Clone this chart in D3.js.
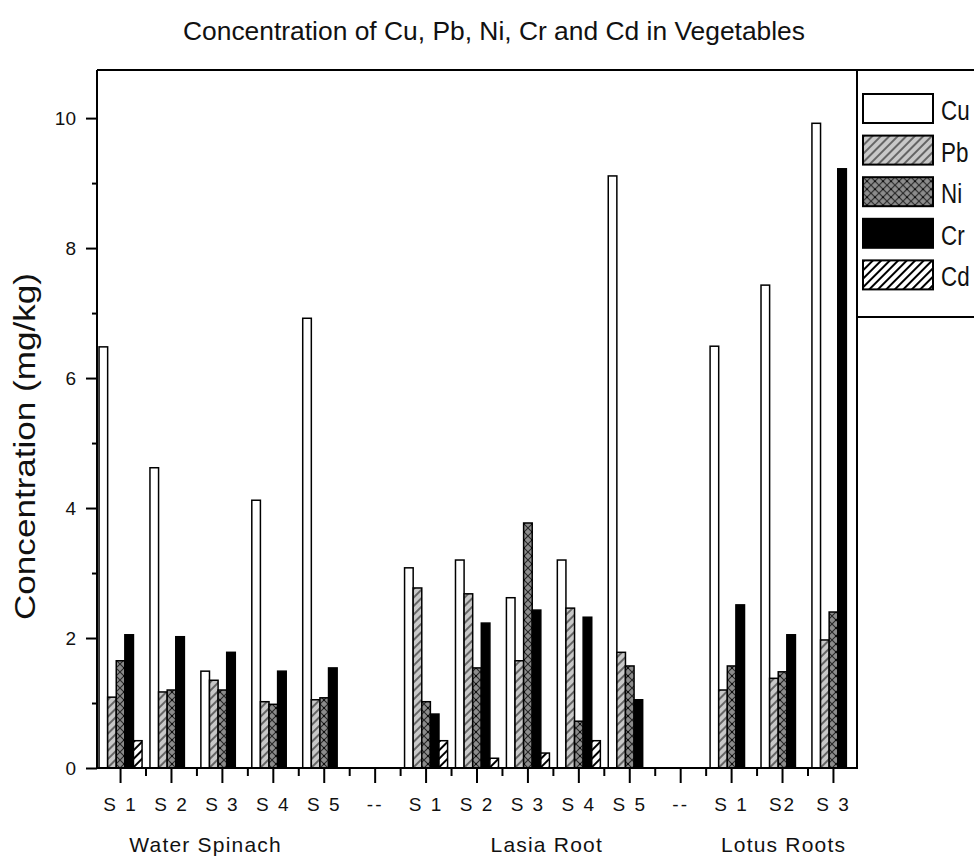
<!DOCTYPE html>
<html>
<head>
<meta charset="utf-8">
<script src="https://cdn.jsdelivr.net/npm/d3@7"></script>
<style>
  body { margin: 0; background: #fff; }
  text { font-family: "Liberation Sans", Arial, sans-serif; fill: #111; }
</style>
</head>
<body>
<div id="chart"></div>
<script>
// x categories (15 slots, "--" are empty spacers)
const categories = ["S 1", "S 2", "S 3", "S 4", "S 5", "--", "S 1", "S 2", "S 3", "S 4", "S 5", "--", "S 1", "S2", "S 3"]
const groups = ["Water Spinach", "Lasia Root", "Lotus Roots"]
const groupAt = [2.67, 9.37, 14.02] // category position (1-based) under which each group name sits
const metals = ["Cu", "Pb", "Ni", "Cr", "Cd"]

// concentrations in mg/kg, one value per category slot
const cu = [6.48, 4.62, 1.49, 4.12, 6.92, 0, 3.08, 3.20, 2.62, 3.20, 9.11, 0, 6.49, 7.43, 9.92]
const pb = [1.09, 1.17, 1.35, 1.02, 1.05, 0, 2.77, 2.68, 1.65, 2.46, 1.78, 0, 1.20, 1.38, 1.97]
const ni = [1.65, 1.20, 1.20, 0.98, 1.08, 0, 1.02, 1.54, 3.77, 0.72, 1.57, 0, 1.57, 1.48, 2.40]
const cr = [2.05, 2.02, 1.78, 1.49, 1.54, 0, 0.83, 2.23, 2.43, 2.32, 1.05, 0, 2.51, 2.05, 9.22]
const cd = [0.42, 0, 0, 0, 0, 0, 0.42, 0.15, 0.23, 0.42, 0, 0, 0, 0, 0]

const yMajor = [0, 2, 4, 6, 8, 10]
const yMinor = [1, 3, 5, 7, 9]

const series = [cu, pb, ni, cr, cd]
const fills = ["#fff", "url(#pat-pb)", "url(#pat-ni)", "#000", "url(#pat-cd)"]

const width = 974, height = 858
const plotL = 97, plotR = 857, plotT = 70, plotB = 768

const svg = d3.select("#chart").append("svg")
    .attr("width", width)
    .attr("height", height)
    .attr("viewBox", [0, 0, width, height])

// hatch patterns
const defs = svg.append("defs")

const pPb = defs.append("pattern").attr("id", "pat-pb")
    .attr("patternUnits", "userSpaceOnUse").attr("width", 6).attr("height", 6)
    .attr("patternTransform", "rotate(45)")
pPb.append("rect").attr("width", 6).attr("height", 6).attr("fill", "#c8c8c8")
pPb.append("line").attr("x1", 1).attr("x2", 1).attr("y1", 0).attr("y2", 6)
    .attr("stroke", "#3a3a3a").attr("stroke-width", 1.4)

const pNi = defs.append("pattern").attr("id", "pat-ni")
    .attr("patternUnits", "userSpaceOnUse").attr("width", 8).attr("height", 8)
pNi.append("rect").attr("width", 8).attr("height", 8).attr("fill", "#8c8c8c")
pNi.append("path").attr("d", "M0,0L8,8M8,0L0,8")
    .attr("stroke", "#262626").attr("stroke-width", 1.1).attr("fill", "none")
pNi.append("rect").attr("x", 3).attr("y", 3).attr("width", 2).attr("height", 2).attr("fill", "#111")

const pCd = defs.append("pattern").attr("id", "pat-cd")
    .attr("patternUnits", "userSpaceOnUse").attr("width", 6).attr("height", 6)
    .attr("patternTransform", "rotate(45)")
pCd.append("rect").attr("width", 6).attr("height", 6).attr("fill", "#fff")
pCd.append("line").attr("x1", 1).attr("x2", 1).attr("y1", 0).attr("y2", 6)
    .attr("stroke", "#000").attr("stroke-width", 2)

// scales
const x = d3.scaleBand()
    .domain(d3.range(categories.length))
    .range([plotL, plotR])
    .paddingInner(0.155)
    .paddingOuter(0.04)

const xSub = d3.scaleBand()
    .domain(d3.range(metals.length))
    .range([0, x.bandwidth()])

const y = d3.scaleLinear()
    .domain([0, 10.74])
    .range([plotB, plotT])

const center = i => x(i) + x.bandwidth() / 2

// bars
const barData = []
categories.forEach((c, i) => {
    series.forEach((s, k) => {
        if (s[i] > 0) barData.push({ i, k, v: s[i] })
    })
})

svg.append("g")
    .attr("stroke", "#000")
    .attr("stroke-width", 1.5)
    .selectAll("rect")
    .data(barData)
    .join("rect")
    .attr("x", d => x(d.i) + xSub(d.k))
    .attr("y", d => y(d.v))
    .attr("width", xSub.bandwidth())
    .attr("height", d => y(0) - y(d.v))
    .attr("fill", d => fills[d.k])

// y axis
const yAxis = svg.append("g")
    .attr("transform", `translate(${plotL},0)`)
    .call(d3.axisLeft(y).tickValues(yMajor).tickSize(11).tickPadding(10).tickFormat(d3.format("d")))
yAxis.call(g => g.select(".domain").remove())
yAxis.selectAll(".tick line").attr("stroke-width", 2)
yAxis.selectAll(".tick text").attr("font-size", 19).attr("fill", "#111")
    .attr("font-family", "'Liberation Sans', Arial, sans-serif")

svg.append("g")
    .attr("transform", `translate(${plotL},0)`)
    .call(d3.axisLeft(y).tickValues(yMinor).tickSize(5).tickFormat(""))
    .call(g => g.select(".domain").remove())
    .selectAll(".tick line").attr("stroke-width", 2)

// x axis
const xAxis = svg.append("g")
    .attr("transform", `translate(0,${plotB})`)
    .call(d3.axisBottom(x).tickSize(15).tickPadding(15).tickFormat(i => categories[i]))
xAxis.call(g => g.select(".domain").remove())
xAxis.selectAll(".tick line").attr("stroke-width", 2)
xAxis.selectAll(".tick text").attr("font-size", 19).attr("letter-spacing", "2px").attr("fill", "#111")
    .attr("font-family", "'Liberation Sans', Arial, sans-serif")

const mids = d3.range(categories.length - 1).map(i => (center(i) + center(i + 1)) / 2)
svg.append("g")
    .attr("stroke", "#000")
    .attr("stroke-width", 2)
    .selectAll("line")
    .data(mids)
    .join("line")
    .attr("x1", d => d).attr("x2", d => d)
    .attr("y1", plotB).attr("y2", plotB + 8)

// group names under the ticks
svg.append("g")
    .selectAll("text")
    .data(groups)
    .join("text")
    .attr("x", (d, j) => center(0) + (groupAt[j] - 1) * x.step())
    .attr("y", 852)
    .attr("text-anchor", "middle")
    .attr("font-size", 21)
    .attr("letter-spacing", "1.2px")
    .text(d => d)

// frame: axes, top and right border
svg.append("path")
    .attr("d", `M${plotL},${plotT}V${plotB}H${plotR}V${plotT}H${plotL}`)
    .attr("fill", "none")
    .attr("stroke", "#000")
    .attr("stroke-width", 2)

// axis title
svg.append("text")
    .attr("transform", `translate(35,${(273 + 620) / 2}) rotate(-90)`)
    .attr("text-anchor", "middle")
    .attr("font-size", 29)
    .attr("fill", "#2a2a2a")
    .attr("textLength", 347)
    .attr("lengthAdjust", "spacingAndGlyphs")
    .text("Concentration (mg/kg)")

// chart title
svg.append("text")
    .attr("x", 494)
    .attr("y", 40)
    .attr("text-anchor", "middle")
    .attr("font-size", 25)
    .attr("textLength", 622)
    .attr("lengthAdjust", "spacingAndGlyphs")
    .text("Concentration of Cu, Pb, Ni, Cr and Cd in Vegetables")

// legend
const legend = svg.append("g")
legend.append("rect")
    .attr("x", plotR).attr("y", plotT)
    .attr("width", 140).attr("height", 247)
    .attr("fill", "#fff")
    .attr("stroke", "#000")
    .attr("stroke-width", 2)

const item = legend.selectAll("g.item")
    .data(metals)
    .join("g")
    .attr("class", "item")
    .attr("transform", (d, k) => `translate(863,${94 + k * 41.6})`)

item.append("rect")
    .attr("width", 70).attr("height", 29)
    .attr("fill", (d, k) => fills[k])
    .attr("stroke", "#000")
    .attr("stroke-width", 2)

// condensed labels, like the narrow face of the original
item.append("text")
    .attr("transform", "translate(78,26) scale(0.8,1)")
    .attr("font-size", 28)
    .text(d => d)
</script>
</body>
</html>
